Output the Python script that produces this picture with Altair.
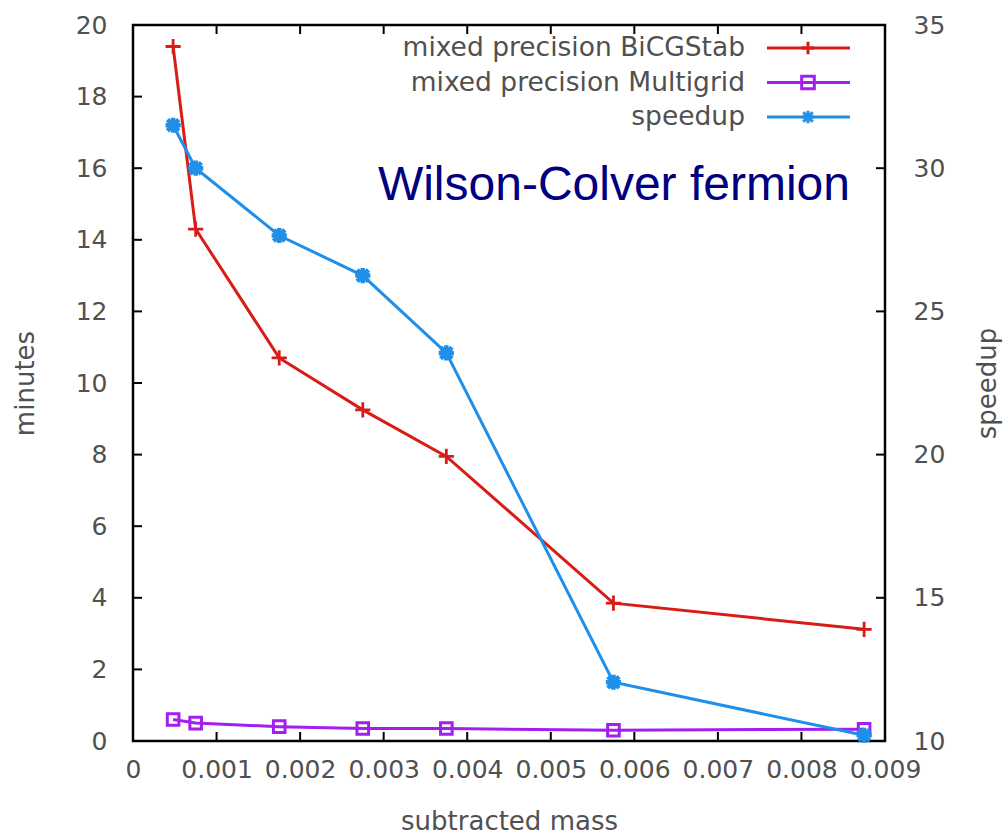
import altair as alt
import pandas as pd

# ---------------- data ----------------
mass = [0.00048, 0.00075, 0.00175, 0.00275, 0.00375, 0.00575, 0.00875]
bicgstab_minutes = [19.4, 14.3, 10.7, 9.25, 7.95, 3.85, 3.12]
multigrid_minutes = [0.6, 0.5, 0.4, 0.35, 0.35, 0.3, 0.33]
speedup_values = [31.5, 30.0, 27.65, 26.25, 23.55, 12.05, 10.2]

x_tick_values = [0, 0.001, 0.002, 0.003, 0.004, 0.005, 0.006, 0.007, 0.008, 0.009]
x_inner_ticks = [0.001, 0.002, 0.003, 0.004, 0.005, 0.006, 0.007, 0.008]
minutes_tick_values = [0, 2, 4, 6, 8, 10, 12, 14, 16, 18, 20]
minutes_inner_ticks = [2, 4, 6, 8, 10, 12, 14, 16, 18]
speedup_tick_values = [10, 15, 20, 25, 30, 35]
speedup_inner_ticks = [15, 20, 25, 30]

series_names = ["mixed precision BiCGStab", "mixed precision Multigrid", "speedup"]
series_colors = ["#d91c16", "#a21ff0", "#1f8fea"]
title_text = "Wilson-Colver fermion"

# ---------------- layout / style ----------------
W, H = 752, 716
LABEL_FONT = "DejaVu Sans"
GRAY = "#505050"
PLUS = "M-1,0L1,0M0,-1L0,1"
STAR = "M-1,0L1,0M0,-1L0,1M-0.75,-0.75L0.75,0.75M-0.75,0.75L0.75,-0.75"
series_shapes = [PLUS, "square", STAR]

df_b = pd.DataFrame({"mass": mass, "minutes": bicgstab_minutes})
df_m = pd.DataFrame({"mass": mass, "minutes": multigrid_minutes})
df_s = pd.DataFrame({"mass": mass, "speedup": speedup_values})

x_scale = alt.Scale(domain=[0, 0.009], nice=False, zero=False)
yl_scale = alt.Scale(domain=[0, 20], nice=False, zero=False)
yr_scale = alt.Scale(domain=[10, 35], nice=False, zero=False)

x_axis = alt.Axis(
    values=x_tick_values,
    labelExpr="datum.value == 0 ? '0' : format(datum.value, '.3f')",
    tickSize=0, domain=False, grid=False, labelFlush=False, labelOverlap=False,
    labelPadding=16, title="subtracted mass",
    titleY=80, titleBaseline="middle",
)
yl_axis = alt.Axis(
    values=minutes_tick_values, tickSize=0, domain=False, grid=False,
    labelPadding=26, title="minutes", titleAngle=270, titleX=-108, titleY=H / 2,
    titleAlign="center", titleBaseline="middle", labelOverlap=False,
)
yr_axis = alt.Axis(
    orient="right", values=speedup_tick_values, tickSize=0, domain=False, grid=False,
    labelPadding=28, title="speedup", titleAngle=270, titleX=102, titleY=H / 2,
    titleAlign="center", titleBaseline="middle", labelOverlap=False,
)

X = alt.X("mass:Q", scale=x_scale, axis=x_axis)

# ---------- left (minutes) group ----------
b_line = alt.Chart(df_b).mark_line(color=series_colors[0], strokeWidth=3).encode(
    x=X, y=alt.Y("minutes:Q", scale=yl_scale, axis=yl_axis))
b_pts = alt.Chart(df_b).mark_point(shape=PLUS, filled=False, color=series_colors[0],
                                   strokeWidth=2.8, size=230, opacity=1).encode(
    x=X, y=alt.Y("minutes:Q", scale=yl_scale, axis=yl_axis))
m_line = alt.Chart(df_m).mark_line(color=series_colors[1], strokeWidth=3).encode(
    x=X, y=alt.Y("minutes:Q", scale=yl_scale, axis=yl_axis))
m_pts = alt.Chart(df_m).mark_point(shape="square", filled=False, color=series_colors[1],
                                   strokeWidth=3, size=135, opacity=1).encode(
    x=X, y=alt.Y("minutes:Q", scale=yl_scale, axis=yl_axis))

df_xt = pd.DataFrame({"mass": x_inner_ticks})
xt_bottom = alt.Chart(df_xt).mark_rule(color="black", strokeWidth=2).encode(
    x=X, y=alt.value(H), y2=alt.value(H - 9))
xt_top = alt.Chart(df_xt).mark_rule(color="black", strokeWidth=2).encode(
    x=X, y=alt.value(0), y2=alt.value(9))
df_lt = pd.DataFrame({"minutes": minutes_inner_ticks})
lt = alt.Chart(df_lt).mark_rule(color="black", strokeWidth=2).encode(
    y=alt.Y("minutes:Q", scale=yl_scale, axis=yl_axis), x=alt.value(0), x2=alt.value(9))

left = alt.layer(xt_bottom, xt_top, lt, b_line, m_line, b_pts, m_pts)

# ---------- right (speedup) group ----------
s_line = alt.Chart(df_s).mark_line(color=series_colors[2], strokeWidth=3).encode(
    x=X, y=alt.Y("speedup:Q", scale=yr_scale, axis=yr_axis))
s_pts = alt.Chart(df_s).mark_point(shape=STAR, filled=False, color=series_colors[2],
                                   strokeWidth=4.5, size=230, opacity=1).encode(
    x=X, y=alt.Y("speedup:Q", scale=yr_scale, axis=yr_axis))
df_rt = pd.DataFrame({"speedup": speedup_inner_ticks})
rt = alt.Chart(df_rt).mark_rule(color="black", strokeWidth=2).encode(
    y=alt.Y("speedup:Q", scale=yr_scale, axis=yr_axis), x=alt.value(W), x2=alt.value(W - 9))

right = alt.layer(rt, s_line, s_pts)

# ---------- legend + annotation ----------
df_leg = pd.DataFrame({"name": series_names, "row": [0, 1, 2]})
leg_y = alt.Y("row:Q", scale=alt.Scale(domain=[0, 2], range=[23, 92]), axis=None)
leg_color = alt.Color("name:N", scale=alt.Scale(domain=series_names, range=series_colors), legend=None)
leg_text = alt.Chart(df_leg).mark_text(align="right", baseline="middle", font=LABEL_FONT,
                                       fontSize=26.5, color=GRAY).encode(
    x=alt.value(612), y=leg_y, text="name:N")
leg_line = alt.Chart(df_leg).mark_rule(strokeWidth=3).encode(
    x=alt.value(634), x2=alt.value(717), y=leg_y, color=leg_color)
leg_pts = alt.Chart(df_leg).mark_point(filled=False, strokeWidth=3, opacity=1, size=160).encode(
    x=alt.value(675), y=leg_y, color=leg_color,
    shape=alt.Shape("name:N", scale=alt.Scale(domain=series_names, range=series_shapes), legend=None))
df_title = pd.DataFrame({"t": [title_text]})
title_mark = alt.Chart(df_title).mark_text(align="right", baseline="middle", font="Liberation Sans",
                                           fontSize=48, color="#000080").encode(
    x=alt.value(717), y=alt.value(161), text="t:N")

legend = alt.layer(leg_line, leg_pts, leg_text, title_mark)

chart = alt.layer(left, right, legend).resolve_scale(
    y="independent", color="independent", shape="independent"
).properties(
    width=W, height=H,
    autosize=alt.AutoSizeParams(type="none"),
    padding={"left": 133, "top": 25, "right": 119, "bottom": 96},
).configure_view(
    stroke="black", strokeWidth=2.5
).configure_axis(
    labelFont=LABEL_FONT, labelFontSize=25, labelColor=GRAY,
    titleFont=LABEL_FONT, titleFontSize=26, titleColor=GRAY, titleFontWeight="normal",
)

chart.save("out.html", embed_options={"renderer": "svg", "actions": False})
